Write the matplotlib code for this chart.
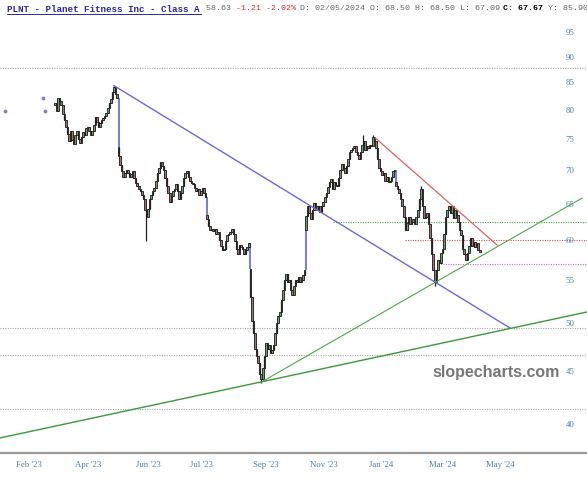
import numpy as np
import matplotlib.pyplot as plt
from matplotlib.lines import Line2D
from matplotlib.ticker import NullLocator
import matplotlib.transforms as mtransforms

# daily closes, split where the chart gaps
seg1 = [81.5, 80.0, 82.3, 81.8, 81.0, 79.5, 78.5, 77.3, 76.0, 74.8,
        76.5, 75.0, 74.3, 75.9, 76.5, 75.2, 74.6, 75.5, 76.3, 75.8,
        77.0, 77.3, 76.5, 75.9, 76.6, 77.5, 79.0, 78.0, 77.3, 77.9,
        78.5, 78.8, 79.2, 79.6, 80.5, 81.5, 82.2, 83.5, 84.3, 83.0, 82.3]
seg2 = [72.5, 71.0, 70.0, 69.2, 69.8, 70.2, 69.8, 69.2, 69.6, 70.0,
        69.0, 68.3, 67.8, 67.3, 67.0, 66.4, 65.8, 64.3, 63.3, 64.5,
        65.8, 66.5, 67.0, 67.5, 68.5, 69.7, 70.5, 71.5, 70.8, 70.2,
        69.0, 67.8, 66.8, 65.5, 66.3, 67.0, 67.3, 68.1, 67.0, 65.8,
        66.8, 67.8, 69.0, 69.7, 70.0, 69.2, 68.6, 68.3, 68.1, 67.5,
        67.0, 67.3, 66.5, 67.0, 67.5, 66.8, 66.2]
seg3 = [63.0, 62.0, 61.5, 61.6, 61.4, 61.7, 61.0, 61.2, 60.2, 59.4,
        58.8, 59.0, 60.0, 60.8, 61.0, 61.2, 61.7, 61.0, 60.1, 59.0,
        58.3, 59.5, 59.2, 59.0, 58.3, 58.8, 59.3, 59.8]
seg4 = [53.0, 50.3, 49.0, 47.3, 46.6, 45.9, 44.8, 44.3, 45.4, 46.6,
        47.9, 47.3, 47.7, 46.9, 47.2, 47.7, 49.0, 50.1, 50.9, 51.3,
        52.7, 53.9, 55.1, 55.8, 54.8, 55.1, 53.9, 53.3, 54.4, 55.1,
        54.8, 55.4, 54.8, 55.1, 55.7, 56.3]
seg5 = [63.5, 64.9, 63.8, 63.0, 64.3, 65.3, 64.8, 64.3, 64.8, 64.0,
        64.8, 65.5, 66.1, 66.8, 67.6, 68.4, 68.9, 67.3, 68.4, 68.0,
        67.8, 69.0, 70.3, 71.2, 70.6, 69.7, 70.9, 72.0, 73.1, 73.4,
        73.7, 74.0, 73.1, 72.6, 72.0, 73.1, 74.2, 74.8, 73.4, 74.0,
        73.7, 74.2, 74.0, 75.5, 74.8, 73.7, 72.0, 70.6, 70.0, 69.5,
        69.7, 68.6, 69.2, 68.4, 68.6, 69.2, 70.0, 70.3]
seg6 = [67.8, 67.3, 66.8, 65.8, 64.8, 63.3, 61.5, 62.5, 63.3, 62.3,
        62.6, 63.0, 62.3, 63.3, 64.3, 65.8, 67.3, 64.8, 63.1, 63.3,
        63.8, 62.3, 60.4, 58.3, 56.3, 54.8, 56.3, 57.6, 57.2, 58.5,
        59.0, 61.0, 63.3, 64.3, 64.8, 63.8, 64.8, 63.1, 64.3, 63.6,
        62.6, 61.5, 60.8, 59.0, 58.3, 57.6, 58.5, 59.4, 60.4, 59.4,
        59.9, 59.2, 59.8, 58.8, 58.6]
segments = [seg1, seg2, seg3, seg4, seg5, seg6]
first_open = 81.0
gap_opens = [73.9, 63.6, 56.4, 61.5, 68.4]

# long wicks (candle number, price)
wick_idx = [38, 59, 133, 199, 205, 236, 245]
wick_price = [84.6, 60.1, 43.9, 75.9, 75.8, 67.8, 54.4]

# trend lines (candle number, price)
blue_line = [(38, 84.6), (293.5, 49.55)]
red_line = [(206.5, 75.4), (285.2, 59.5)]
green_line1 = [(132.3, 43.9), (340, 66.0)]
green_line2 = [(-35.5, 38.87), (343.2, 51.33)]

gray_levels = [87.9, 49.6, 46.7, 41.4]
green_level, green_from = 62.6, 179.4
red_level, red_from = 60.2, 225.8
pink_level, pink_from = 57.1, 247.1

stray_x = [-32.3, -7.7, -6.5]
stray_y = [80.0, 82.3, 80.0]

y_ticks = [40, 45, 50, 55, 60, 65, 70, 75, 80, 85, 90, 95]
x_tick_pos = [-16.8, 21.3, 60.0, 94.2, 136.1, 173.5, 210.3, 250.3, 287.1]
x_tick_labels = ["Feb '23", "Apr '23", "Jun '23", "Jul '23", "Sep '23",
                 "Nov '23", "Jan '24", "Mar '24", "May '24"]

# build opens / closes
closes, opens, gap_x, gap_lo, gap_hi = [], [], [], [], []
prev = first_open
for k, seg in enumerate(segments):
    for j, c in enumerate(seg):
        if j == 0 and k > 0:
            o = gap_opens[k - 1]
            gap_x.append(len(closes))
            gap_lo.append(min(prev, o))
            gap_hi.append(max(prev, o))
        else:
            o = prev
        opens.append(o)
        closes.append(c)
        prev = c
closes = np.array(closes)
opens = np.array(opens)
x = np.arange(len(closes))
lows = np.minimum(opens, closes)
highs = np.maximum(opens, closes)
for i, p in zip(wick_idx, wick_price):
    lows[i] = min(lows[i], p)
    highs[i] = max(highs[i], p)

fig = plt.figure(figsize=(5.87, 4.8), dpi=100)
ax = fig.add_axes([0, 27 / 480, 1, 453 / 480])
ax.set_yscale('log')
ax.set_xlim(-35.5, 343.2)
ax.set_ylim(37.6, 102.2)

for lvl in gray_levels:
    ax.axhline(lvl, color='#a8a8a8', lw=0.8, ls=(0, (1, 1.2)), zorder=1)
ax.plot([green_from, 343.2], [green_level] * 2, color='#44aa44', lw=0.8, ls=(0, (1, 1.2)), zorder=1)
ax.plot([red_from, 343.2], [red_level] * 2, color='#e05050', lw=0.8, ls=(0, (1, 1.2)), zorder=1)
ax.plot([pink_from, 343.2], [pink_level] * 2, color='#e060e0', lw=0.8, ls=(0, (1, 1.2)), zorder=1)

up = closes >= opens
ax.vlines(x, lows, highs, color='#202020', lw=0.9, zorder=3)
ax.bar(x[up], (closes - opens)[up], bottom=opens[up], width=1.0,
       color='#6d9f6d', edgecolor='#1a1a1a', linewidth=0.6, zorder=4)
ax.bar(x[~up], (opens - closes)[~up], bottom=closes[~up], width=1.0,
       color='#a07272', edgecolor='#1a1a1a', linewidth=0.6, zorder=4)
ax.vlines(gap_x, gap_lo, gap_hi, color='#6f6fe6', lw=1.3, zorder=3)

for line, col, lw in [(blue_line, '#6a6ae0', 1.0), (red_line, '#e86060', 0.9),
                      (green_line1, '#4aa84a', 0.8), (green_line2, '#3a9a3a', 1.0)]:
    ax.plot([line[0][0], line[1][0]], [line[0][1], line[1][1]], color=col, lw=lw, zorder=5)

ax.scatter(stray_x, stray_y, s=3, color='#8080c8', zorder=5)

ax.yaxis.set_major_locator(NullLocator())
ax.yaxis.set_minor_locator(NullLocator())
trans = mtransforms.blended_transform_factory(ax.transAxes, ax.transData)
for v in y_ticks:
    ax.text(570 / 587, v, str(v), transform=trans, ha='center', va='center',
            fontsize=6.3, color='#4a80b0', family='Liberation Serif')

ax.set_xticks(x_tick_pos)
ax.set_xticklabels(x_tick_labels, fontsize=6.3, color='#4a80b0', family='Liberation Serif')
ax.tick_params(axis='x', length=0, pad=6)
for s in ['top', 'left', 'right']:
    ax.spines[s].set_visible(False)
ax.spines['bottom'].set_color('#9a9a9a')
ax.spines['bottom'].set_linewidth(1.6)

fig.text(496 / 587, 1 - 373 / 480, 'slopecharts.com', ha='center', va='center',
         fontsize=11.5, fontweight='bold', color='#777777', family='Liberation Sans')

# header line
ty = 1 - 9 / 480
fig.text(7 / 587, ty, 'PLNT - Planet Fitness Inc - Class A', fontsize=6.64,
         fontweight='bold', color='#2a2aa8', family='Liberation Mono', va='center')
fig.add_artist(Line2D([7 / 587, 201 / 587], [1 - 14 / 480] * 2, color='#2a2aa8', lw=0.7))
parts = [('58.63 ', '#666666', 'normal'), ('-1.21 -2.02% ', '#d03030', 'normal'),
         ('D: 02/05/2024 O: 68.50 H: 68.50 L: 67.09 ', '#666666', 'normal'),
         ('C: 67.67 ', '#000000', 'bold'), ('Y: 85.90', '#666666', 'normal')]
cw = 0.6 * 5.94 * 100 / 72
px = 206
for txt, col, wt in parts:
    fig.text(px / 587, ty, txt, fontsize=5.94, color=col, fontweight=wt,
             family='Liberation Mono', va='center')
    px += len(txt) * cw

fig.savefig('out.png', dpi=100)
